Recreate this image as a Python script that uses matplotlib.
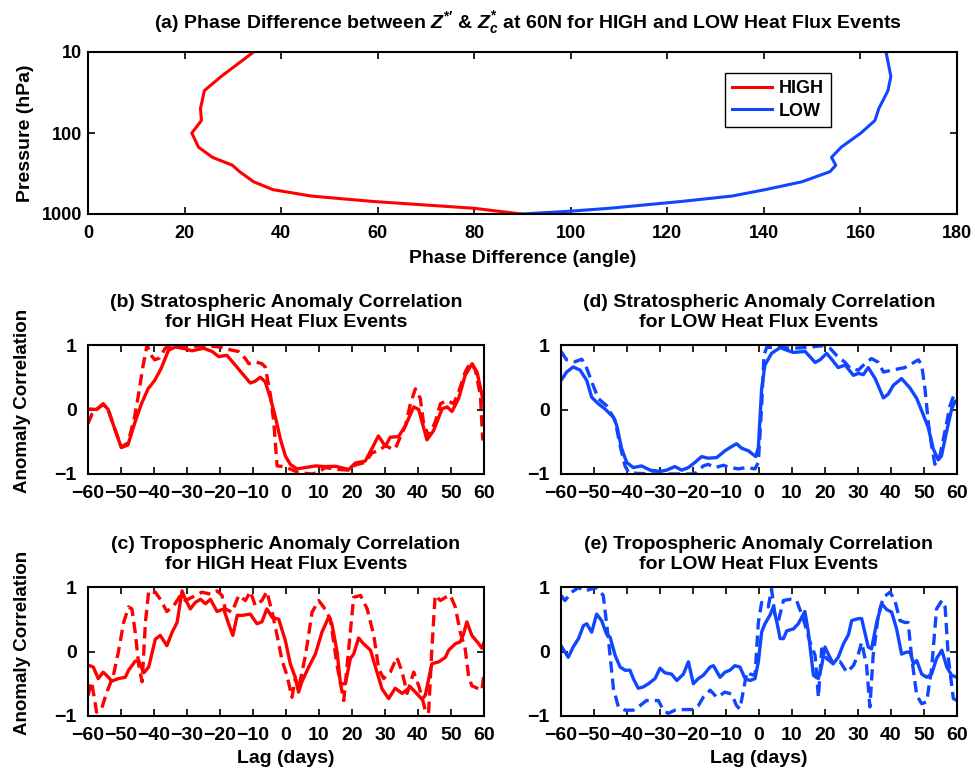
import matplotlib
matplotlib.use('Agg')
from matplotlib import pyplot as plt

# Helvetica-like bold text throughout
plt.rcParams['font.family'] = ['Liberation Sans', 'DejaVu Sans']
plt.rcParams['font.weight'] = 'bold'
plt.rcParams['axes.titleweight'] = 'bold'
plt.rcParams['axes.labelweight'] = 'bold'
plt.rcParams['mathtext.fontset'] = 'custom'
plt.rcParams['mathtext.rm'] = 'Liberation Sans:bold'
plt.rcParams['mathtext.it'] = 'Liberation Sans:italic:bold'

RED = '#ff0000'
BLUE = '#1046ff'

# ---- (a) phase difference profiles ----
pressure = [10, 20, 30, 50, 70, 100, 150, 200, 250, 300, 400, 500, 600, 700, 850, 925, 1000]
phase_high = [34.3, 27.6, 24.1, 23.3, 23.5, 21.5, 22.9, 25.8, 29.9, 31.4, 34.3, 38.3, 46.2, 59.0, 80.0, 85.0, 89.8]
phase_low = [165.3, 166.3, 165.7, 163.8, 163.0, 160.1, 156.0, 154.0, 154.9, 153.7, 147.9, 140.3, 133.4, 122.9, 108.0, 99.7, 89.8]

# ---- (b) stratosphere, HIGH ----
lag_b_solid = [-60, -57.4, -55.4, -53.9, -51.9, -49.9, -47.9, -45.9, -43.8, -41.8, -39.8, -37.8, -35.6, -33.5,
               -30.5, -28.5, -25, -22.4, -20.4, -17.9, -15.4, -12.8, -10.8, -9.3, -7.8, -6.3, -4.7, -3.2, -1.7,
               -0.2, 1.3, 3.3, 5.9, 8.9, 11.9, 15, 19, 21, 24, 26, 28, 30.1, 31.6, 34.1, 36.2, 38.7, 40.2, 42.7,
               44.7, 47.3, 48.8, 50.3, 52.3, 54.3, 56.4, 57.9, 59.4, 60]
corr_b_solid = [0.01, 0.0, 0.09, 0.0, -0.3, -0.59, -0.55, -0.22, 0.09, 0.32, 0.45, 0.64, 0.92, 0.97,
                0.94, 0.91, 0.95, 0.9, 0.82, 0.84, 0.69, 0.53, 0.41, 0.44, 0.5, 0.43, 0.17, -0.12, -0.46,
                -0.72, -0.85, -0.92, -0.9, -0.875, -0.885, -0.88, -0.93, -0.83, -0.8, -0.61, -0.41, -0.57, -0.43,
                -0.42, -0.25, 0.04, 0.0, -0.47, -0.33, 0.01, 0.04, -0.03, 0.17, 0.53, 0.71, 0.58, 0.22, 0.06]
lag_b_dash = [-60, -58.8, -57.4, -55.4, -53.9, -51.9, -49.9, -47.9, -45.9, -44.8, -43.3, -42.1, -41, -39.8,
              -38.3, -36.6, -34.5, -28, -24, -20.4, -16.4, -14.4, -12.3, -11.3, -9.3, -7.3, -6.3, -4.7, -3.7,
              -2.7, -1.5, 0.3, 3.8, 7.9, 9.9, 11.9, 15.9, 19, 21, 24, 26.1, 28.1, 30.1, 32.1, 33.1, 34.6, 36.2,
              37.7, 39.2, 40.7, 41.7, 43.2, 45.2, 46.8, 48.8, 50.8, 52.3, 54.3, 55.9, 57.4, 58.9, 59.6, 60]
corr_b_dash = [-0.22, -0.07, 0.0, 0.08, 0.0, -0.3, -0.58, -0.52, -0.12, 0.2, 0.68, 1.0, 0.85, 0.77,
               0.8, 0.95, 1.0, 0.98, 0.99, 0.97, 0.92, 0.9, 0.79, 0.71, 0.74, 0.71, 0.66, 0.22, -0.2,
               -0.875, -0.88, -0.9, -0.98, -1.0, -0.97, -0.9, -0.93, -0.94, -0.86, -0.82, -0.67, -0.64, -0.56,
               -0.61, -0.61, -0.43, -0.25, 0.09, 0.32, 0.17, -0.22, -0.41, -0.2, 0.09, 0.14, 0.09, 0.27, 0.58,
               0.73, 0.61, 0.22, -0.46, -0.45]

# ---- (c) troposphere, HIGH ----
lag_c_solid = [-60, -58.4, -56.9, -55.4, -53.8, -52.8, -50.8, -48.7, -47.7, -45.7, -44.6, -43.1, -41.6, -39.6,
               -38.1, -36.1, -34.5, -33, -31.5, -30.5, -29, -27.5, -25.9, -24.4, -22.9, -20.9, -18.9, -17.4,
               -16.1, -14.8, -13.3, -10.8, -8.8, -7.3, -5.8, -4.2, -2.2, -0.2, 1.3, 2.8, 3.8, 4.8, 6.9, 8.9,
               10.9, 12.9, 13.9, 15.5, 16.5, 18, 19.5, 20.5, 22, 23.5, 25.6, 27.1, 29.1, 31.1, 33.1, 35.2,
               37.7, 39.2, 41.2, 42.2, 44.2, 46.3, 48.3, 49.3, 51.3, 52.8, 53.8, 54.8, 56.3, 58.4, 59.4, 60]
corr_c_solid = [-0.21, -0.24, -0.42, -0.32, -0.4, -0.46, -0.42, -0.4, -0.29, -0.15, -0.15, -0.33, -0.24, 0.19,
                0.25, 0.09, 0.3, 0.45, 0.94, 0.81, 0.66, 0.76, 0.81, 0.74, 0.81, 0.62, 0.66, 0.43,
                0.25, 0.56, 0.56, 0.58, 0.43, 0.46, 0.66, 0.53, 0.5, 0.17, -0.19, -0.4, -0.63, -0.47, -0.24, -0.04,
                0.3, 0.53, 0.43, -0.01, -0.5, -0.5, -0.11, -0.04, 0.21, 0.12, 0.02, -0.24, -0.58, -0.73, -0.57,
                -0.65, -0.55, -0.63, -0.74, -0.68, -0.19, -0.16, -0.09, 0.02, 0.12, 0.15, 0.27, 0.46, 0.25, 0.12,
                0.05, 0.14]
lag_c_dash = [-60, -58.9, -57.4, -55.9, -54.3, -52.3, -50.8, -49.2, -47.7, -46.7, -45.7, -44.6, -43.6, -42.6,
              -41.6, -39.6, -38.1, -36.1, -34, -32, -30.5, -28.5, -25.5, -22.9, -20.9, -19.4, -18.4, -16.4,
              -14.3, -12.3, -10.8, -9.3, -7.3, -5.8, -4.2, -2.7, -1.2, 0.3, 1.8, 2.8, 3.8, 5.9, 7.9, 9.9,
              11.4, 13.4, 15.5, 17.5, 19, 20.5, 22.6, 24.6, 26.6, 28.1, 29.6, 31.6, 33.6, 35.2, 36.7, 38.7,
              40.2, 41.2, 42.2, 43.2, 44.2, 45.2, 46.8, 48.3, 49.8, 51.3, 52.8, 54.3, 55.3, 56.3, 58.4, 59.4, 60]
corr_c_dash = [-0.68, -0.47, -0.94, -0.89, -0.63, -0.37, -0.01, 0.45, 0.69, 0.66, 0.3, -0.22, -0.47, 0.45,
               0.94, 0.92, 0.81, 0.62, 0.71, 0.87, 0.79, 0.84, 0.92, 0.89, 0.94, 0.87, 0.66, 0.61,
               0.87, 0.79, 0.93, 0.71, 0.79, 0.93, 0.61, 0.25, -0.14, -0.37, -0.71, -0.42, -0.58, -0.06, 0.61,
               0.79, 0.69, 0.51, -0.22, -0.76, 0.04, 0.84, 0.87, 0.66, 0.25, -0.27, -0.42, -0.32, -0.09, -0.32,
               -0.65, -0.32, -0.53, -0.71, -0.91, -0.96, 0.04, 0.87, 0.79, 0.84, 0.87, 0.69, 0.3, 0.04, -0.37,
               -0.53, -0.58, -0.6, -0.32]

# ---- (d) stratosphere, LOW ----
lag_d_solid = [-60, -58.3, -56.3, -54.2, -52.2, -50.7, -48.7, -46.7, -44.1, -43.1, -41.6, -40.1, -38.1, -35.6,
               -33, -30, -28, -25.5, -23.4, -21.4, -19.4, -17.4, -15.4, -12.8, -10.3, -8.8, -6.8, -5.3, -3.2,
               -1, -0.2, 0.8, 1.8, 3.8, 6.4, 8.4, 10.4, 14, 17, 18.5, 20.5, 22, 24, 26.1, 28.6, 30.1, 31.6,
               33.1, 35.2, 37.7, 39.2, 40.7, 43.2, 45.8, 47.8, 49.3, 51.3, 52.8, 54.3, 55.3, 56.8, 58.4, 59.4, 60]
corr_d_solid = [0.45, 0.58, 0.66, 0.61, 0.45, 0.19, 0.09, 0.01, -0.12, -0.25, -0.61, -0.82, -0.9, -0.875,
                -0.94, -0.96, -0.94, -0.885, -0.94, -0.9, -0.82, -0.73, -0.755, -0.745, -0.64, -0.59, -0.53,
                -0.6, -0.64, -0.73, -0.59, 0.32, 0.69, 0.87, 0.96, 0.92, 0.885, 0.9, 0.73, 0.77, 0.87, 0.78,
                0.65, 0.69, 0.53, 0.56, 0.54, 0.65, 0.48, 0.18, 0.24, 0.375, 0.48, 0.33, 0.17, -0.02, -0.28,
                -0.61, -0.78, -0.72, -0.35, 0.01, 0.125, 0.14]
lag_d_dash = [-60, -58.3, -55.8, -53.7, -52.2, -50.7, -48.7, -46.2, -43.6, -42.1, -40.6, -39.6, -37.1, -31,
              -26.9, -20.4, -18.9, -16.9, -15.4, -13.3, -10.8, -8.8, -6.3, -3.7, -1.2, -0.2, 0.8, 1.5, 2.3,
              5.4, 9.4, 14.4, 19.5, 21.5, 23.5, 26.1, 27.6, 30.1, 32.1, 34.1, 36.2, 37.7, 40.2, 44.2, 48.3,
              49.3, 50.3, 51.3, 52.3, 53.3, 54.8, 56.3, 57.9, 59.4, 60]
corr_d_dash = [0.9, 0.77, 0.74, 0.78, 0.64, 0.43, 0.17, 0.06, -0.17, -0.56, -0.875, -0.97, -0.99, -1.0,
               -1.0, -1.0, -0.98, -0.875, -0.85, -0.9, -0.865, -0.9, -0.92, -0.9, -0.92, -0.82, 0.06, 0.84, 0.96,
               0.97, 0.95, 0.96, 0.99, 0.95, 0.84, 0.73, 0.64, 0.61, 0.71, 0.79, 0.73, 0.58, 0.61, 0.65, 0.77,
               0.69, 0.32, -0.2, -0.56, -0.85, -0.72, -0.35, 0.06, 0.27, 0.26]

# ---- (e) troposphere, LOW ----
lag_e_solid = [-60, -57.8, -56.3, -54.7, -53.2, -52.2, -50.7, -49.2, -47.7, -46.2, -45.1, -43.6, -42.1, -40.6,
               -39.1, -38.1, -36.6, -35.1, -33.5, -31.5, -30, -28.5, -26.5, -24.9, -22.9, -21.4, -19.9, -18.4,
               -16.9, -14.8, -13.8, -11.8, -10.3, -8.8, -7.3, -5.8, -4.2, -2.7, -1.2, -0.2, 0.8, 1.8, 3.3,
               4.3, 5.4, 6.4, 7.4, 8.4, 10.4, 11.9, 13.9, 14.9, 16.5, 18, 19, 20, 21, 22.5, 24, 25.6, 27.1,
               28.1, 30.1, 31.1, 33.1, 34.1, 35.7, 37.2, 38.7, 40.2, 41.7, 43.2, 44.7, 45.8, 46.8, 47.8, 49.3,
               50.8, 52.3, 53.8, 55.4, 56.9, 58.4, 60]
corr_e_solid = [0.09, -0.09, 0.07, 0.2, 0.4, 0.43, 0.3, 0.58, 0.48, 0.27, 0.22, -0.06, -0.24, -0.29,
                -0.29, -0.42, -0.57, -0.55, -0.5, -0.42, -0.26, -0.33, -0.35, -0.45, -0.35, -0.16, -0.5, -0.42,
                -0.37, -0.24, -0.22, -0.4, -0.32, -0.29, -0.22, -0.24, -0.42, -0.45, -0.42, -0.16, 0.3, 0.43,
                0.56, 0.69, 0.46, 0.2, 0.2, 0.32, 0.35, 0.43, 0.62, 0.32, -0.37, -0.42, -0.22, 0.07, -0.04,
                -0.19, -0.09, 0.12, 0.26, 0.48, 0.51, 0.51, 0.07, 0.04, 0.46, 0.74, 0.65, 0.61, 0.35, -0.04,
                -0.01, -0.01, -0.19, -0.14, -0.35, -0.4, -0.35, -0.11, 0.02, -0.24, -0.37, -0.4]
lag_e_dash = [-60, -58.8, -56.8, -54.7, -52.7, -50.7, -49.2, -47.2, -45.7, -44.1, -42.6, -40.6, -38.1, -36.1,
              -34.1, -32, -30.5, -29, -27.5, -25.5, -22.9, -19.9, -18.4, -16.9, -14.8, -12.8, -10.3, -8.3,
              -6.8, -5.8, -4.7, -3.7, -2.7, -1.2, -0.2, 0.8, 1.8, 2.8, 3.8, 4.8, 5.9, 7.4, 9.4, 11.4, 13.4,
              15.5, 17, 18, 19, 20.5, 22.5, 24.6, 26.6, 28.6, 30.1, 31.1, 32.6, 33.6, 34.6, 36.2, 37.7, 39.7,
              41.2, 42.7, 44.2, 45.2, 46.3, 47.8, 49.3, 50.8, 52.3, 53.8, 55.4, 56.4, 57.4, 58.9, 60]
corr_e_dash = [0.87, 0.79, 0.92, 0.99, 0.94, 0.97, 0.99, 0.87, 0.22, -0.58, -0.86, -0.91, -0.91, -0.84,
               -0.76, -0.76, -0.76, -0.91, -0.96, -0.91, -0.9, -0.9, -0.84, -0.71, -0.6, -0.71, -0.63, -0.66,
               -0.84, -0.89, -0.6, -0.32, -0.35, -0.37, 0.45, 0.76, 0.74, 0.69, 0.97, 0.58, 0.48, 0.79, 0.81,
               0.79, 0.51, 0.14, -0.06, -0.71, 0.04, -0.11, -0.19, -0.16, -0.32, -0.22, -0.04, 0.14, -0.22,
               -0.86, -0.06, 0.58, 0.84, 0.92, 0.79, 0.48, 0.45, 0.45, -0.11, -0.68, -0.81, -0.78, -0.27,
               0.66, 0.79, 0.69, -0.11, -0.73, -0.76]

lag_ticks = list(range(-60, 61, 10))
corr_ticks = [-1, 0, 1]

fig = plt.figure(figsize=(9.75, 7.68), dpi=100)
W, H = 975.0, 768.0


def px_axes(left, top, right, bottom):
    return fig.add_axes([left / W, 1 - bottom / H, (right - left) / W, (bottom - top) / H])


# panel (a)
ax = px_axes(88, 52, 957, 214)
ax.plot(phase_high, pressure, color=RED, lw=2.2, label='HIGH')
ax.plot(phase_low, pressure, color=BLUE, lw=2.2, label='LOW')
ax.set_yscale('log')
ax.set_ylim(1000, 10)
ax.set_xlim(0, 180)
ax.set_xticks(range(0, 181, 20))
ax.set_yticks([10, 100, 1000])
ax.set_yticklabels(['10', '100', '1000'])
ax.minorticks_off()
ax.tick_params(direction='in', top=True, right=True, length=5, width=1.2, labelsize=13)
ax.tick_params(axis='x', pad=8)
ax.tick_params(axis='y', pad=4)
for s in ax.spines.values():
    s.set_linewidth(1.5)
ax.set_xlabel('Phase Difference (angle)', fontsize=14, labelpad=6)
ax.set_ylabel('Pressure (hPa)', fontsize=14, labelpad=6)
ax.set_title(r"(a) Phase Difference between $Z^{*\prime}$ & $Z_c^{*}$ at 60N for HIGH and LOW Heat Flux Events",
             fontsize=14, pad=17, x=0.506)
leg = ax.legend(loc='upper left', bbox_to_anchor=(0.733, 0.87), borderaxespad=0, fancybox=False,
                framealpha=1, edgecolor='black', handlelength=2.2, handletextpad=0.4, borderpad=0.4,
                labelspacing=0.3, fontsize=13)
leg.get_frame().set_linewidth(1.0)


def corr_panel(left, top, title, series, ylabel=False, xlabel=False):
    ax = px_axes(left, top, left + 396, top + 129)
    for lags, vals, color, style in series:
        ax.plot(lags, vals, color=color, lw=2.4, linestyle=style)
    ax.set_xlim(-60, 60)
    ax.set_ylim(-1, 1)
    ax.set_xticks(lag_ticks)
    ax.set_xticklabels(['\u2212%d' % -t if t < 0 else '%d' % t for t in lag_ticks])
    ax.set_yticks(corr_ticks)
    ax.set_yticklabels(['\u22121', '0', '1'])
    ax.tick_params(direction='in', top=True, right=True, length=5, width=1.2, labelsize=14, pad=8)
    for s in ax.spines.values():
        s.set_linewidth(1.5)
    ax.set_title(title, fontsize=14, pad=13, linespacing=1.25)
    if ylabel:
        ax.set_ylabel('Anomaly Correlation', fontsize=13.5, labelpad=17)
        ax.yaxis.label.set_y(0.565)
    if xlabel:
        ax.set_xlabel('Lag (days)', fontsize=14, labelpad=4)
    return ax


DASH = (0, (3.4, 1.8))
corr_panel(88, 345, '(b) Stratospheric Anomaly Correlation\nfor HIGH Heat Flux Events',
           [(lag_b_dash, corr_b_dash, RED, DASH), (lag_b_solid, corr_b_solid, RED, '-')], ylabel=True)
corr_panel(561, 345, '(d) Stratospheric Anomaly Correlation\nfor LOW Heat Flux Events',
           [(lag_d_dash, corr_d_dash, BLUE, DASH), (lag_d_solid, corr_d_solid, BLUE, '-')])
corr_panel(88, 587, '(c) Tropospheric Anomaly Correlation\nfor HIGH Heat Flux Events',
           [(lag_c_dash, corr_c_dash, RED, DASH), (lag_c_solid, corr_c_solid, RED, '-')], ylabel=True, xlabel=True)
corr_panel(561, 587, '(e) Tropospheric Anomaly Correlation\nfor LOW Heat Flux Events',
           [(lag_e_dash, corr_e_dash, BLUE, DASH), (lag_e_solid, corr_e_solid, BLUE, '-')], xlabel=True)

fig.savefig('out.png', dpi=100)
